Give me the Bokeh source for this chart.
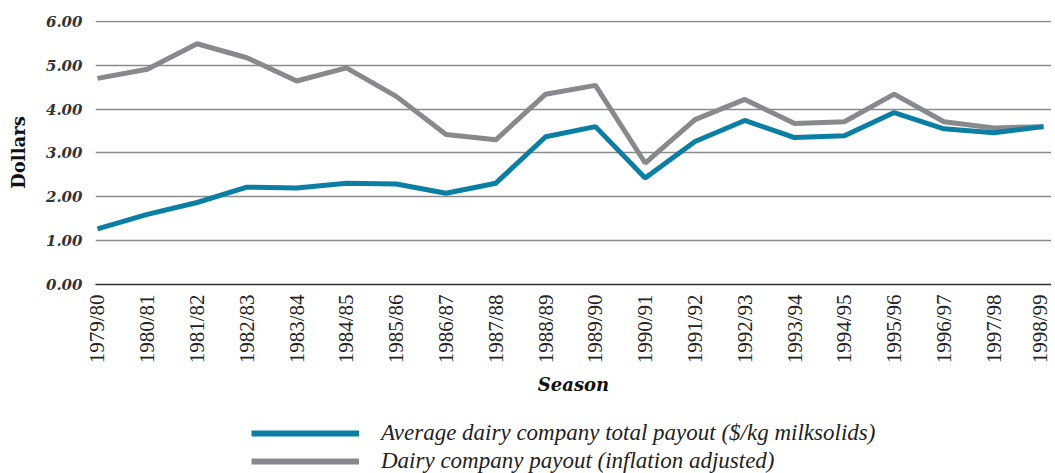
import math
from bokeh.plotting import figure
from bokeh.layouts import column
from bokeh.models import Range1d, FixedTicker, NumeralTickFormatter, Legend, LegendItem, ColumnDataSource
from bokeh.embed import file_html
from bokeh.resources import INLINE

seasons = ["1979/80", "1980/81", "1981/82", "1982/83", "1983/84", "1984/85", "1985/86",
           "1986/87", "1987/88", "1988/89", "1989/90", "1990/91", "1991/92", "1992/93",
           "1993/94", "1994/95", "1995/96", "1996/97", "1997/98", "1998/99"]
payout = [1.27, 1.60, 1.87, 2.22, 2.20, 2.31, 2.29, 2.08, 2.31, 3.37,
          3.60, 2.43, 3.26, 3.74, 3.35, 3.39, 3.92, 3.55, 3.46, 3.60]
payout_adj = [4.70, 4.91, 5.49, 5.17, 4.64, 4.94, 4.29, 3.42, 3.30, 4.34,
              4.54, 2.77, 3.76, 4.22, 3.67, 3.71, 4.34, 3.71, 3.57, 3.60]
y_ticks = [0, 1, 2, 3, 4, 5, 6]

idx = list(range(len(seasons)))
src = ColumnDataSource(dict(x=idx, payout=payout, adj=payout_adj))

blue = "#0b7fa3"
grey = "#88898d"

p = figure(width=1051, height=403, output_backend="svg", toolbar_location=None,
           x_range=Range1d(-0.04, 19.16), y_range=Range1d(0, 6.02),
           min_border_left=95, min_border_top=20, min_border_right=0, min_border_bottom=119)
p.outline_line_color = None
p.background_fill_color = "white"
p.border_fill_color = "white"

p.xgrid.grid_line_color = None
p.ygrid.grid_line_color = "#8a8a8a"
p.ygrid.grid_line_width = 1.5
p.ygrid.ticker = FixedTicker(ticks=y_ticks)

p.yaxis.ticker = FixedTicker(ticks=y_ticks)
p.yaxis.formatter = NumeralTickFormatter(format="0.00")
p.yaxis.axis_line_color = None
p.yaxis.major_tick_line_color = None
p.yaxis.minor_tick_line_color = None
p.yaxis.major_tick_out = 0
p.yaxis.major_label_standoff = 13
p.yaxis.major_label_text_font = "DejaVu Serif"
p.yaxis.major_label_text_font_style = "bold italic"
p.yaxis.major_label_text_font_size = "15px"
p.yaxis.major_label_text_color = "#333333"
p.yaxis.axis_label = "Dollars"
p.yaxis.axis_label_text_font = "DejaVu Serif"
p.yaxis.axis_label_text_font_style = "bold"
p.yaxis.axis_label_text_font_size = "18px"
p.yaxis.axis_label_text_color = "#111111"
p.yaxis.axis_label_standoff = 14

p.xaxis.ticker = FixedTicker(ticks=idx)
p.xaxis.major_label_overrides = {i: s for i, s in zip(idx, seasons)}
p.xaxis.major_label_orientation = math.pi / 2
p.xaxis.axis_line_color = "#333333"
p.xaxis.axis_line_width = 1.5
p.xaxis.major_tick_line_color = None
p.xaxis.minor_tick_line_color = None
p.xaxis.major_tick_out = 0
p.xaxis.major_label_standoff = 10
p.xaxis.major_label_text_font = "Liberation Serif"
p.xaxis.major_label_text_font_size = "21px"
p.xaxis.major_label_text_color = "#222222"
p.xaxis.axis_label = "Season"
p.xaxis.axis_label_text_font = "DejaVu Serif"
p.xaxis.axis_label_text_font_style = "bold italic"
p.xaxis.axis_label_text_font_size = "18px"
p.xaxis.axis_label_text_color = "#111111"
p.xaxis.axis_label_standoff = 8

p.line("x", "adj", source=src, line_color=grey, line_width=5)
p.line("x", "payout", source=src, line_color=blue, line_width=5)

# legend strip below the chart
lg = figure(width=1051, height=70, output_backend="svg", toolbar_location=None,
            x_range=Range1d(0, 1), y_range=Range1d(0, 1),
            min_border_left=8, min_border_top=0, min_border_right=0, min_border_bottom=0)
lg.axis.visible = False
lg.grid.visible = False
lg.outline_line_color = None
la = lg.line("x", "adj", source=src, line_color=grey, line_width=6, visible=False)
lp = lg.line("x", "payout", source=src, line_color=blue, line_width=6, visible=False)

legend = Legend(items=[
    LegendItem(label="Average dairy company total payout ($/kg milksolids)", renderers=[lp]),
    LegendItem(label="Dairy company payout (inflation adjusted)", renderers=[la]),
], location=(156, -1), orientation="vertical")
legend.glyph_width = 108
legend.glyph_height = 20
legend.spacing = 2
legend.padding = 0
legend.margin = 0
legend.label_standoff = 22
legend.border_line_color = None
legend.background_fill_alpha = 0
legend.label_text_font = "Liberation Serif"
legend.label_text_font_style = "italic"
legend.label_text_font_size = "23px"
legend.label_text_color = "#222222"
lg.add_layout(legend, "center")

layout = column(p, lg, spacing=0)
open("out.html", "w").write(file_html(layout, INLINE))
